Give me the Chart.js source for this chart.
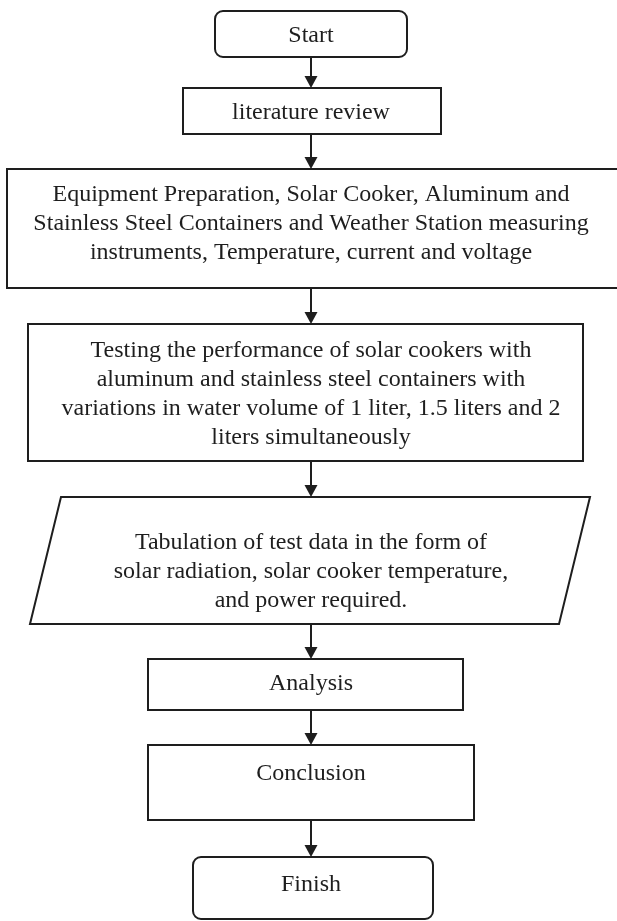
<!DOCTYPE html>
<html>
<head>
<meta charset="utf-8">
<title>Solar Cooker Research Flowchart</title>
<script src="https://cdn.jsdelivr.net/npm/chart.js"></script>
<style>
  html, body { margin: 0; padding: 0; background: white; }
  #flow { display: block; }
</style>
</head>
<body>
<canvas id="flow" width="617" height="921"></canvas>
<script>
// flowchart steps, top to bottom
const stepLabels = [
  ['Start'],
  ['literature review'],
  ['Equipment Preparation, Solar Cooker, Aluminum and',
   'Stainless Steel Containers and Weather Station measuring',
   'instruments, Temperature, current and voltage'],
  ['Testing the performance of solar cookers with',
   'aluminum and stainless steel containers with',
   'variations in water volume of 1 liter, 1.5 liters and 2',
   'liters simultaneously'],
  ['Tabulation of test data in the form of',
   'solar radiation, solar cooker temperature,',
   'and power required.'],
  ['Analysis'],
  ['Conclusion'],
  ['Finish']
];
const stepShapes = ['terminal', 'process', 'process', 'process', 'data', 'process', 'process', 'terminal'];

// layout, in axis units (x 0..617, y 0..921 downwards)
const layout = {
  left:   [215, 183,   7,  28,  30, 148, 148, 193],
  right:  [407, 441, 630, 583, 590, 463, 474, 433],
  top:    [ 11,  88, 169, 324, 497, 659, 745, 857],
  bottom: [ 57, 134, 288, 461, 624, 710, 820, 919],
  textY:  [ 36, 113, 195, 351, 543, 684, 774, 885],
  axisX: 311,
  slant: 31,
  lineGap: 29
};

const ink = '#1e1e1e';
const font = '24px "Liberation Serif", "Times New Roman", serif';

const flowPlugin = {
  id: 'flowchart',
  afterDatasetsDraw(chart) {
    const ctx = chart.ctx;
    const sx = v => chart.scales.x.getPixelForValue(v);
    const sy = v => chart.scales.y.getPixelForValue(v);
    ctx.save();
    ctx.strokeStyle = ink;
    ctx.lineWidth = 2;
    ctx.lineJoin = 'miter';

    stepLabels.forEach((lines, i) => {
      const l = sx(layout.left[i]), r = sx(layout.right[i]);
      const t = sy(layout.top[i]), b = sy(layout.bottom[i]);
      ctx.beginPath();
      if (stepShapes[i] === 'terminal') {
        ctx.roundRect(l, t, r - l, b - t, 8);
      } else if (stepShapes[i] === 'data') {
        const s = sx(layout.slant) - sx(0);
        ctx.moveTo(l + s, t);
        ctx.lineTo(r, t);
        ctx.lineTo(r - s, b);
        ctx.lineTo(l, b);
        ctx.closePath();
      } else {
        ctx.rect(l, t, r - l, b - t);
      }
      ctx.fillStyle = 'white';
      ctx.fill();
      ctx.stroke();

      ctx.fillStyle = ink;
      ctx.font = font;
      ctx.textAlign = 'center';
      ctx.textBaseline = 'middle';
      lines.forEach((txt, k) => {
        ctx.fillText(txt, sx(layout.axisX), sy(layout.textY[i] + k * layout.lineGap));
      });
    });

    // connecting arrows
    ctx.fillStyle = ink;
    for (let i = 0; i < stepLabels.length - 1; i++) {
      const x = sx(layout.axisX);
      const y0 = sy(layout.bottom[i]);
      const y1 = sy(layout.top[i + 1]);
      ctx.beginPath();
      ctx.moveTo(x, y0);
      ctx.lineTo(x, y1 - 10);
      ctx.stroke();
      ctx.beginPath();
      ctx.moveTo(x, y1);
      ctx.lineTo(x - 6.5, y1 - 12);
      ctx.lineTo(x + 6.5, y1 - 12);
      ctx.closePath();
      ctx.fill();
    }
    ctx.restore();
  }
};

new Chart(document.getElementById('flow').getContext('2d'), {
  type: 'scatter',
  data: {
    datasets: [{
      label: 'steps',
      data: stepLabels.map((_, i) => ({ x: layout.axisX, y: (layout.top[i] + layout.bottom[i]) / 2 })),
      pointRadius: 0
    }]
  },
  options: {
    responsive: false,
    animation: false,
    layout: { padding: 0 },
    plugins: { legend: { display: false }, tooltip: { enabled: false } },
    scales: {
      x: { type: 'linear', min: 0, max: 617, display: false },
      y: { type: 'linear', min: 0, max: 921, reverse: true, display: false }
    }
  },
  plugins: [flowPlugin]
});
</script>
</body>
</html>
